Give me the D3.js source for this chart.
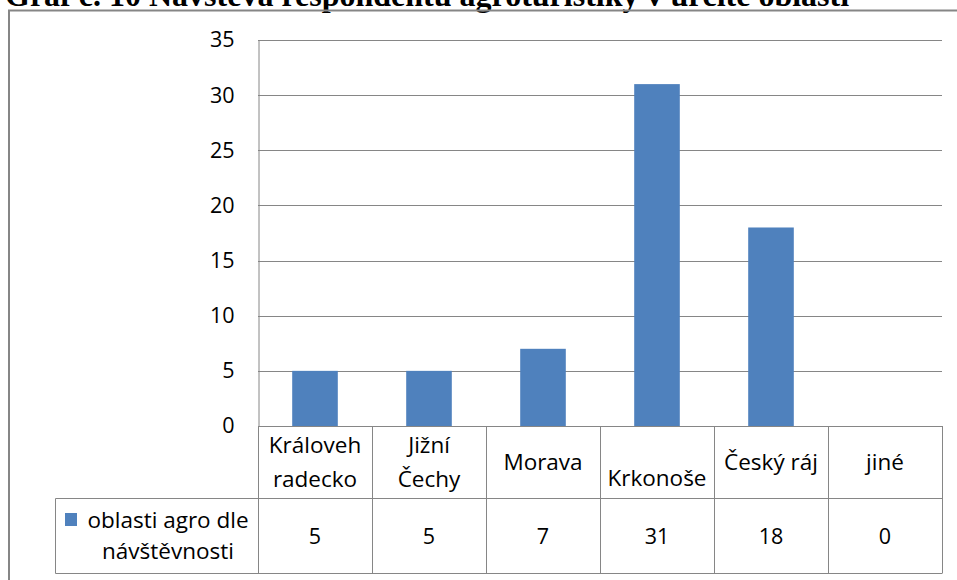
<!DOCTYPE html>
<html>
<head>
<meta charset="utf-8">
<script src="https://cdn.jsdelivr.net/npm/d3@7"></script>
<style>
  body { margin: 0; background: #fff; }
  svg { display: block; }
</style>
</head>
<body>
<div id="chart"></div>
<script>
'use strict';

// data
var categories = ['Královeh radecko', 'Jižní Čechy', 'Morava', 'Krkonoše', 'Český ráj', 'jiné'];
var categoryLines = [['Královeh', 'radecko'], ['Jižní', 'Čechy'], ['Morava'], ['Krkonoše'], ['Český ráj'], ['jiné']];
var seriesName = 'oblasti agro dle návštěvnosti';
var seriesLines = ['oblasti agro dle', 'návštěvnosti'];
var values = [5, 5, 7, 31, 18, 0];
var yTicks = [0, 5, 10, 15, 20, 25, 30, 35];
var title = 'Graf č. 10 Návštěva respondentů agroturistiky v určité oblasti';

var width = 957, height = 580;
var font = '"Open Sans", sans-serif';
var grey = '#868686';
var barColor = '#4F81BD';

var svg = d3.select('#chart').append('svg')
    .attr('width', width)
    .attr('height', height);

// title, cut off at the top of the picture as in the source
svg.append('text')
    .attr('x', 5)
    .attr('y', 6)
    .attr('font-family', '"Liberation Serif", serif')
    .attr('font-weight', 'bold')
    .attr('font-size', 32)
    .attr('fill', '#000')
    .text(title);

// outer frame
svg.append('path')
    .attr('d', 'M9,' + height + 'V10.5H' + width)
    .attr('fill', 'none')
    .attr('stroke', grey)
    .attr('stroke-width', 2);

var plotLeft = 258, plotRight = 942, plotTop = 40, plotBottom = 426;

var y = d3.scaleLinear().domain([0, 35]).range([plotBottom, plotTop]);
var x = d3.scaleBand().domain(categories).range([plotLeft, plotRight])
    .paddingInner(0.6).paddingOuter(0.3);
var col = d3.scaleBand().domain(categories).range([plotLeft, plotRight]);

// gridlines
svg.append('g').selectAll('line')
    .data(yTicks)
    .enter().append('line')
    .attr('x1', plotLeft)
    .attr('x2', plotRight)
    .attr('y1', function(d) { return Math.round(y(d)) + 0.5; })
    .attr('y2', function(d) { return Math.round(y(d)) + 0.5; })
    .attr('stroke', grey)
    .attr('stroke-width', 1);

// y axis
var yAxis = svg.append('g')
    .attr('transform', 'translate(' + (plotLeft + 0.5) + ',0)')
    .call(d3.axisLeft(y).tickValues(yTicks).tickSize(0).tickPadding(24));
yAxis.select('.domain').attr('stroke', grey);
yAxis.selectAll('text')
    .attr('font-family', font)
    .attr('font-size', 21.5)
    .attr('fill', '#000');

// bars
svg.append('g').selectAll('rect')
    .data(values)
    .enter().append('rect')
    .attr('x', function(d, i) { return x(categories[i]); })
    .attr('width', x.bandwidth())
    .attr('y', function(d) { return y(d); })
    .attr('height', function(d) { return y(0) - y(d); })
    .attr('fill', barColor);

// data table
var rowTop = plotBottom, rowMid = 498.5, rowBottom = 573.5, legendLeft = 55.5;
var table = svg.append('g')
    .attr('fill', 'none')
    .attr('stroke', grey)
    .attr('stroke-width', 1);

table.append('path')
    .attr('d', 'M' + legendLeft + ',' + rowMid + 'H' + plotRight + 'M' + legendLeft + ',' + rowBottom + 'H' + plotRight +
        'M' + legendLeft + ',' + rowMid + 'V' + rowBottom);

table.selectAll('line')
    .data(categories.concat(['end']))
    .enter().append('line')
    .attr('x1', function(d, i) { return Math.round(i < categories.length ? col(d) : plotRight) + 0.5; })
    .attr('x2', function(d, i) { return Math.round(i < categories.length ? col(d) : plotRight) + 0.5; })
    .attr('y1', rowTop)
    .attr('y2', rowBottom);

// category labels in the header row
var labelShift = { 'Krkonoše': 16 };
var header = svg.append('g')
    .attr('font-family', font)
    .attr('font-size', 22.5)
    .attr('text-anchor', 'middle')
    .attr('fill', '#000');

header.selectAll('text')
    .data(categories)
    .enter().append('text')
    .attr('x', function(d) { return col(d) + col.bandwidth() / 2; })
    .attr('y', function(d, i) {
        var n = categoryLines[i].length;
        return (rowTop + rowMid) / 2 - (n - 1) * 17 + 8 + (labelShift[d] || 0);
    })
    .each(function(d, i) {
        var t = d3.select(this);
        categoryLines[i].forEach(function(line, j) {
            t.append('tspan')
                .attr('x', col(d) + col.bandwidth() / 2)
                .attr('dy', j === 0 ? 0 : 34)
                .text(line);
        });
    });

// values row
svg.append('g')
    .attr('font-family', font)
    .attr('font-size', 21.5)
    .attr('text-anchor', 'middle')
    .attr('fill', '#000')
    .selectAll('text')
    .data(values)
    .enter().append('text')
    .attr('x', function(d, i) { return col(categories[i]) + col.bandwidth() / 2; })
    .attr('y', (rowMid + rowBottom) / 2 + 8)
    .text(function(d) { return d; });

// legend cell
svg.append('rect')
    .attr('x', 65)
    .attr('y', 513)
    .attr('width', 12)
    .attr('height', 13)
    .attr('fill', barColor);

var legendText = svg.append('text')
    .attr('font-family', font)
    .attr('font-size', 22.5)
    .attr('text-anchor', 'middle')
    .attr('fill', '#000');
seriesLines.forEach(function(line, j) {
    legendText.append('tspan')
        .attr('x', 168)
        .attr('y', 528 + j * 31)
        .text(line);
});
</script>
</body>
</html>
